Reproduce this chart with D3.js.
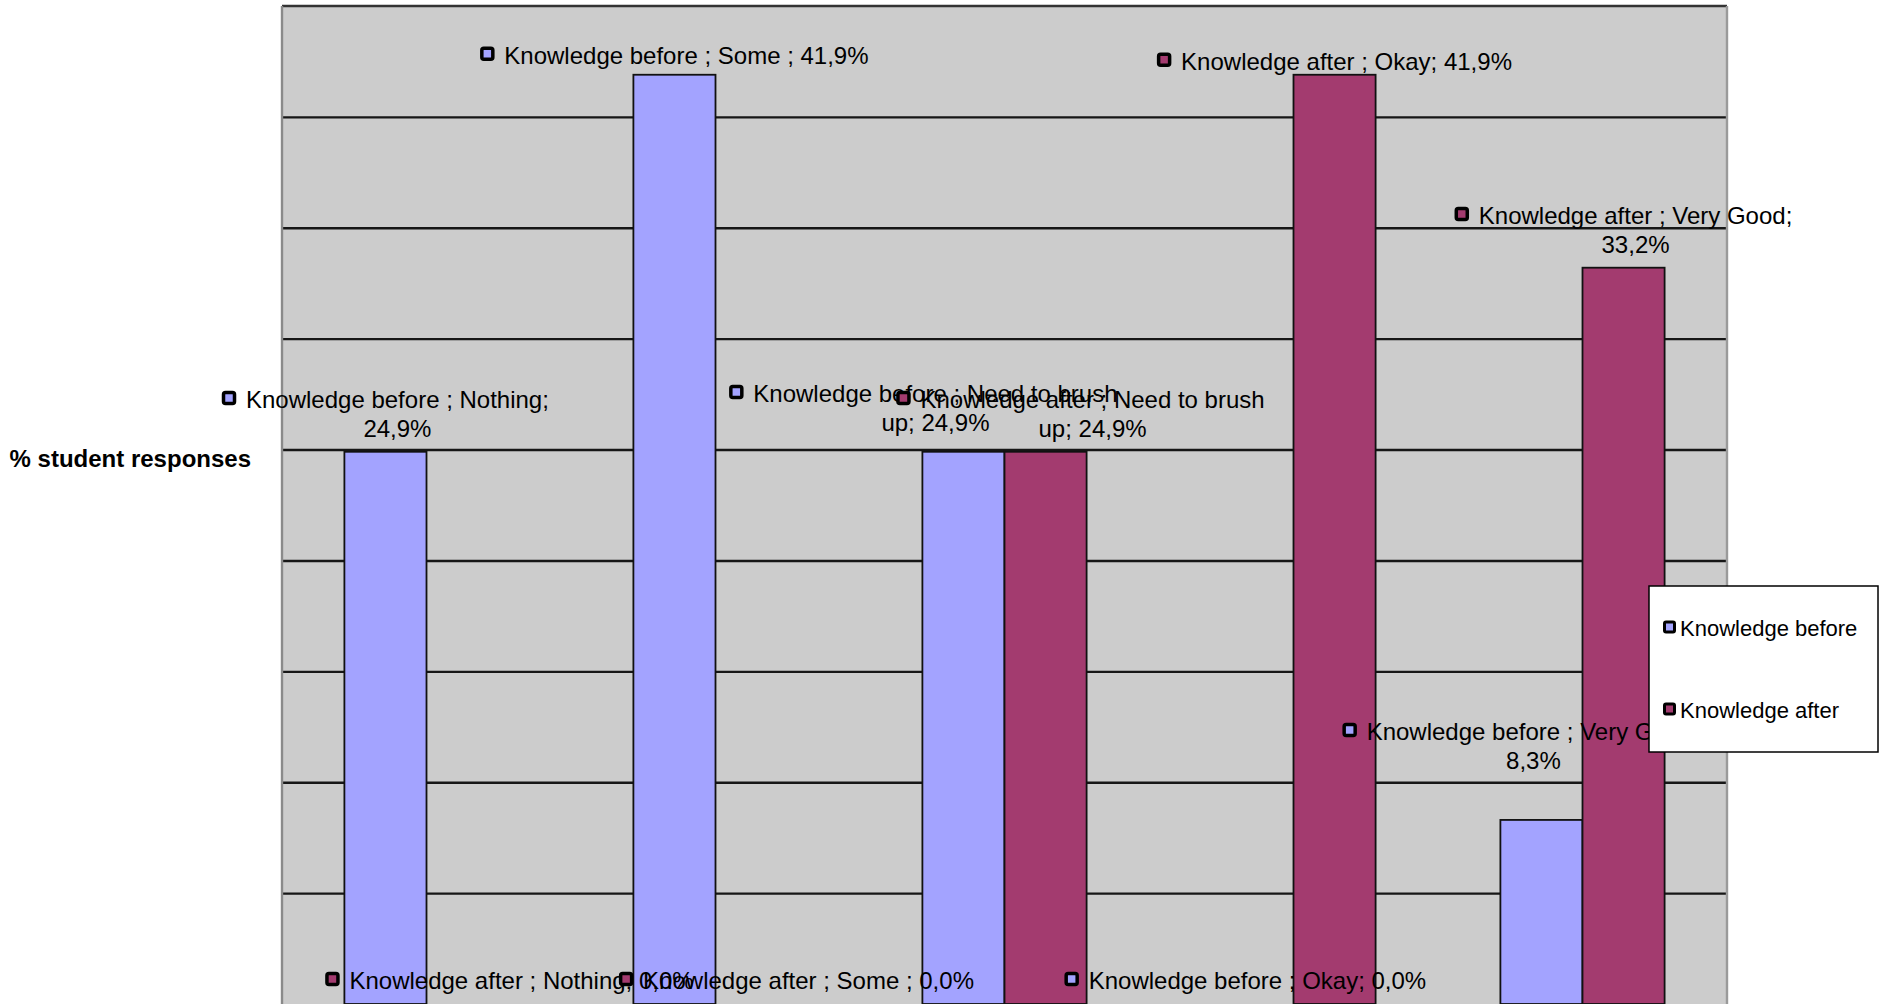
<!DOCTYPE html>
<html>
<head>
<meta charset="utf-8">
<script src="https://cdn.jsdelivr.net/npm/d3@7"></script>
<style>
  html, body { margin: 0; padding: 0; background: #fff; overflow: hidden; }
  svg { display: block; font-family: "Liberation Sans", Arial, sans-serif; }
</style>
</head>
<body>
<svg id="chart" width="1879" height="1004"></svg>
<script>
// Survey answers, share of student responses (%)
const categories = ["Nothing", "Some ", "Need to brush up", "Okay", "Very Good"];
const seriesNames = ["Knowledge before", "Knowledge after"];
const knowledgeBefore = [24.9, 41.9, 24.9, 0.0, 8.3];
const knowledgeAfter = [0.0, 0.0, 24.9, 41.9, 33.2];
const gridTicks = [5, 10, 15, 20, 25, 30, 35, 40];
const yAxisTitle = "% student responses";

// Label placement tweaks [dx, dy] so overlapping labels stay readable
const labelNudgeBefore = [[0, 0], [0, 4], [-40, -6], [-7, 0], [-20, -36]];
const labelNudgeAfter = [[42, 0], [40, 0], [35, 0], [0, 10], [0, 0]];

const colors = { "Knowledge before": "#a3a3ff", "Knowledge after": "#a33b6f" };

const plot = { left: 282, right: 1727, top: 6, bottom: 1004 };
const svg = d3.select("#chart");

const x0 = d3.scaleBand().domain(categories).range([plot.left, plot.right]).paddingInner(0).paddingOuter(0);
const x1 = d3.scaleBand().domain(seriesNames).range([0, x0.bandwidth()]).paddingInner(0).paddingOuter(0.76);
const y = d3.scaleLinear().domain([0, 45]).range([plot.bottom, plot.top]);

const rows = [];
categories.forEach((c, i) => {
  rows.push({ series: seriesNames[0], cat: c, value: knowledgeBefore[i], nudge: labelNudgeBefore[i] });
  rows.push({ series: seriesNames[1], cat: c, value: knowledgeAfter[i], nudge: labelNudgeAfter[i] });
});

// plot background
svg.append("rect")
  .attr("x", plot.left).attr("y", plot.top)
  .attr("width", plot.right - plot.left).attr("height", plot.bottom - plot.top)
  .attr("fill", "#cccccc");

// horizontal gridlines
const grid = svg.append("g")
  .attr("transform", `translate(${plot.left},0)`)
  .call(d3.axisLeft(y).tickValues(gridTicks).tickSize(-(plot.right - plot.left)).tickFormat(""));
grid.select(".domain").remove();
grid.selectAll(".tick line").attr("stroke", "#161616").attr("stroke-width", 2.4);

// bars
svg.append("g").selectAll("rect")
  .data(rows.filter(d => d.value > 0))
  .join("rect")
  .attr("x", d => x0(d.cat) + x1(d.series))
  .attr("y", d => y(d.value))
  .attr("width", x1.bandwidth())
  .attr("height", d => y(0) - y(d.value))
  .attr("fill", d => colors[d.series])
  .attr("stroke", "#111")
  .attr("stroke-width", 1.8);

// plot frame
svg.append("line").attr("x1", plot.left).attr("x2", plot.right).attr("y1", plot.top).attr("y2", plot.top)
  .attr("stroke", "#333").attr("stroke-width", 2.4);
svg.append("line").attr("x1", plot.left).attr("x2", plot.left).attr("y1", plot.top).attr("y2", plot.bottom)
  .attr("stroke", "#8a8a8a").attr("stroke-width", 2.4);
svg.append("line").attr("x1", plot.right).attr("x2", plot.right).attr("y1", plot.top).attr("y2", plot.bottom)
  .attr("stroke", "#9a9a9a").attr("stroke-width", 2.4);

// data labels
const fontSize = 24, lineH = 28.8, maxLabelW = 370;
const fmt = v => v.toFixed(1).replace(".", ",") + "%";
const measure = svg.append("text").attr("font-size", fontSize).attr("visibility", "hidden");
const textWidth = s => { measure.text(s); return measure.node().getComputedTextLength(); };

function wrap(str) {
  const words = str.split(" ");
  const lines = [];
  let cur = "";
  words.forEach(w => {
    const cand = cur ? cur + " " + w : w;
    if (cur && textWidth(cand) > maxLabelW) { lines.push(cur); cur = w; }
    else cur = cand;
  });
  lines.push(cur);
  return lines;
}

const labels = svg.append("g");
rows.forEach(d => {
  const str = `${d.series} ; ${d.cat}; ${fmt(d.value)}`;
  const lines = wrap(str);
  const maxW = d3.max(lines, textWidth);
  const markerSpace = 24;
  const blockW = markerSpace + maxW;
  const cx = x0(d.cat) + x1(d.series) + x1.bandwidth() / 2 + d.nudge[0];
  const left = cx - blockW / 2;
  const lastY = y(d.value) - 23.5 + d.nudge[1];
  const firstY = lastY - (lines.length - 1) * lineH;
  const g = labels.append("g");
  g.append("rect")
    .attr("x", left + 1.5).attr("y", firstY - 7)
    .attr("width", 11).attr("height", 11).attr("rx", 2)
    .attr("fill", colors[d.series]).attr("stroke", "#000").attr("stroke-width", 3.5);
  lines.forEach((ln, k) => {
    g.append("text")
      .attr("x", left + markerSpace + maxW / 2)
      .attr("y", firstY + k * lineH)
      .attr("dy", "0.35em")
      .attr("text-anchor", "middle")
      .attr("font-size", fontSize)
      .attr("fill", "#000")
      .text(ln);
  });
});
measure.remove();

// y axis title
svg.append("text")
  .attr("x", 251).attr("y", 459).attr("dy", "0.35em")
  .attr("text-anchor", "end")
  .attr("font-size", 24).attr("font-weight", "bold")
  .text(yAxisTitle);

// legend
const legend = svg.append("g");
legend.append("rect")
  .attr("x", 1649).attr("y", 586).attr("width", 229).attr("height", 166)
  .attr("fill", "#fff").attr("stroke", "#000").attr("stroke-width", 1.5);
const legendY = d3.scalePoint().domain(seriesNames).range([628, 710]);
seriesNames.forEach(s => {
  legend.append("rect")
    .attr("x", 1664.5).attr("y", legendY(s) - 6)
    .attr("width", 10).attr("height", 10).attr("rx", 1.5)
    .attr("fill", colors[s]).attr("stroke", "#000").attr("stroke-width", 3);
  legend.append("text")
    .attr("x", 1680).attr("y", legendY(s)).attr("dy", "0.35em")
    .attr("font-size", 22).attr("fill", "#000")
    .text(s);
});
</script>
</body>
</html>
